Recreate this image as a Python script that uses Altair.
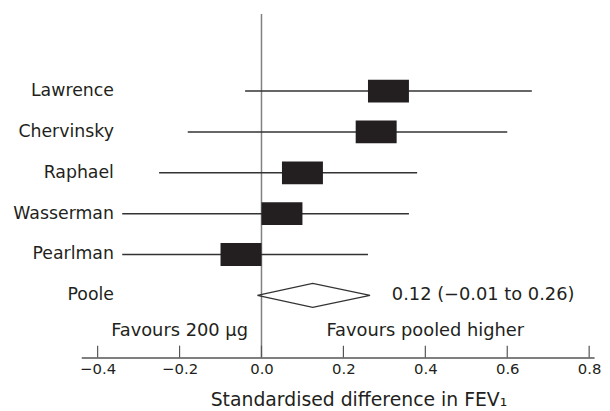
import altair as alt
import pandas as pd

# ---- data ----
studies = ["Lawrence", "Chervinsky", "Raphael", "Wasserman", "Pearlman"]
estimate = [0.31, 0.28, 0.10, 0.05, -0.05]
ci_low = [-0.04, -0.18, -0.25, -0.34, -0.34]
ci_high = [0.66, 0.60, 0.38, 0.36, 0.26]

pooled_name = "Poole"
pooled_est = 0.125
pooled_low = -0.01
pooled_high = 0.265
pooled_text = "0.12 (\u22120.01 to 0.26)"

favour_labels = ["Favours 200 \u00b5g", "Favours pooled higher"]
favour_x = [-0.2, 0.4]

tick_values = [-0.4, -0.2, 0.0, 0.2, 0.4, 0.6, 0.8]
x_title = "Standardised difference in FEV\u2081"

# ---- layout constants ----
W, H = 518, 347
FONT = "DejaVu Sans"
TXT = "#231f20"
BOX_HALF = 0.05
DIAMOND_HALF_H = 0.294

studies_df = pd.DataFrame({
    "study": studies,
    "row": list(range(len(studies))),
    "est": estimate,
    "lo": ci_low,
    "hi": ci_high,
})
studies_df["box_lo"] = studies_df["est"] - BOX_HALF
studies_df["box_hi"] = studies_df["est"] + BOX_HALF

prow = len(studies)
labels_df = pd.DataFrame({"label": studies + [pooled_name], "row": list(range(prow + 1))})

diamond_df = pd.DataFrame({
    "x": [pooled_low, pooled_est, pooled_high, pooled_est, pooled_low],
    "y": [prow, prow - DIAMOND_HALF_H, prow, prow + DIAMOND_HALF_H, prow],
    "o": [0, 1, 2, 3, 4],
})
pooled_df = pd.DataFrame({"x": [pooled_high], "row": [prow], "text": [pooled_text]})
favour_df = pd.DataFrame({"x": favour_x, "text": favour_labels})
ticks_df = pd.DataFrame({"t": tick_values})
zero_df = pd.DataFrame({"z": [0.0]})

xscale = alt.Scale(domain=[-0.440, 0.812], nice=False, zero=False)
yscale = alt.Scale(domain=[-1.765, 6.4], reverse=True, nice=False, zero=False)

xaxis = alt.Axis(
    values=tick_values, format=".1f", ticks=False, grid=False,
    domainColor="#555555", domainWidth=1.5,
    labelFont=FONT, labelFontSize=15, labelColor=TXT, labelPadding=4,
    title=x_title, titleFont=FONT, titleFontSize=19, titleFontWeight="normal",
    titleColor=TXT, titlePadding=14, titleX=280,
)

ci = alt.Chart(studies_df).mark_rule(color="#333333", strokeWidth=1.5).encode(
    x=alt.X("lo:Q", scale=xscale, axis=xaxis),
    x2="hi:Q",
    y=alt.Y("row:Q", scale=yscale, axis=None),
)

boxes = alt.Chart(studies_df).mark_bar(color=TXT, size=23, orient="horizontal").encode(
    x=alt.X("box_lo:Q", scale=xscale),
    x2="box_hi:Q",
    y=alt.Y("row:Q", scale=yscale),
)

zero = alt.Chart(zero_df).mark_rule(color="#808080", strokeWidth=1.5).encode(
    x=alt.X("z:Q", scale=xscale),
    y=alt.value(0),
    y2=alt.value(H),
)

tickmarks = alt.Chart(ticks_df).mark_rule(color="#555555", strokeWidth=1.2).encode(
    x=alt.X("t:Q", scale=xscale),
    y=alt.value(H - 12),
    y2=alt.value(H),
)

diamond = alt.Chart(diamond_df).mark_line(color="#333333", strokeWidth=1.2).encode(
    x=alt.X("x:Q", scale=xscale),
    y=alt.Y("y:Q", scale=yscale),
    order="o:Q",
)

row_labels = alt.Chart(labels_df).mark_text(
    align="right", baseline="middle", font=FONT, fontSize=17.5, color=TXT
).encode(
    x=alt.value(33),
    y=alt.Y("row:Q", scale=yscale),
    text="label:N",
)

pooled_lbl = alt.Chart(pooled_df).mark_text(
    align="left", baseline="middle", dx=22, font=FONT, fontSize=18, color=TXT
).encode(
    x=alt.X("x:Q", scale=xscale),
    y=alt.Y("row:Q", scale=yscale),
    text="text:N",
)

favours = alt.Chart(favour_df).mark_text(
    align="center", baseline="middle", font=FONT, fontSize=18, color=TXT
).encode(
    x=alt.X("x:Q", scale=xscale),
    y=alt.value(320),
    text="text:N",
)

chart = alt.layer(
    zero, tickmarks, ci, boxes, diamond, row_labels, pooled_lbl, favours
).properties(
    width=W, height=H,
    autosize=alt.AutoSizeParams(type="none"),
    padding={"left": 74, "top": 4, "right": 8, "bottom": 54},
    background="white",
).configure_view(stroke=None)

chart.save("out.html", embed_options={"renderer": "svg", "actions": False})
